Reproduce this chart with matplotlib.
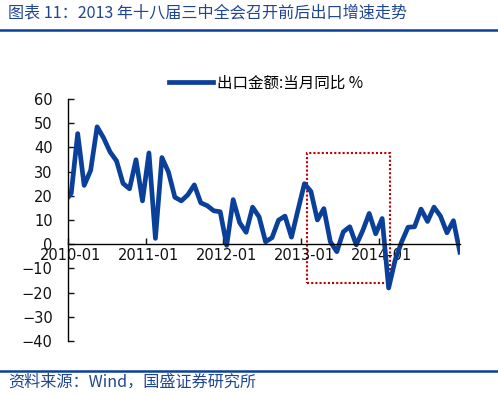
import matplotlib
matplotlib.use('Agg')
import matplotlib.pyplot as plt
from matplotlib.patches import Rectangle
from matplotlib.lines import Line2D
from matplotlib.transforms import ScaledTranslation
import numpy as np

plt.rcParams['font.family'] = ['DejaVu Sans', 'Noto Sans CJK SC']
cjk = ['Noto Sans CJK SC', 'DejaVu Sans']

# 出口金额:当月同比 %，2009-12 ~ 2015-01（逐月）
export_yoy = [17.7,
              21.0, 45.7, 24.3, 30.5, 48.5, 43.9, 38.1, 34.4, 25.1, 22.9, 34.9, 17.9,
              37.7, 2.4, 35.8, 29.9, 19.4, 17.9, 20.4, 24.5, 17.1, 15.9, 13.8, 13.4,
              -0.5, 18.4, 8.9, 4.9, 15.3, 11.3, 1.0, 2.7, 9.9, 11.6, 2.9, 14.1,
              25.0, 21.8, 10.0, 14.7, 1.0, -3.1, 5.1, 7.2, -0.3, 5.6, 12.7, 4.3,
              10.6, -18.1, -6.6, 0.9, 7.0, 7.2, 14.5, 9.4, 15.3, 11.6, 4.7, 9.7,
              -3.3]
xtick_labels = ['2010-01', '2011-01', '2012-01', '2013-01', '2014-01']
yticks = [-40, -30, -20, -10, 0, 10, 20, 30, 40, 50, 60]

blue = '#0A409A'
dark_blue = '#1F4691'

fig = plt.figure(figsize=(4.98, 3.96), dpi=100)
ax = fig.add_axes([0.1365, 0.139, 0.787, 0.611])

# 月份坐标：0 = 2010-01 起点，数据点落在月中
x = np.arange(len(export_yoy)) - 0.5
ax.plot(x, export_yoy, color=blue, lw=3.4, label='出口金额:当月同比 %',
        solid_joinstyle='round')

ax.set_xlim(0, x[-1])
ax.set_ylim(-40, 60)
ax.set_yticks(yticks)
ax.set_xticks([12 * i for i in range(len(xtick_labels))])
ax.set_xticklabels(xtick_labels)

ax.spines['top'].set_visible(False)
ax.spines['right'].set_visible(False)
ax.spines['bottom'].set_position(('data', 0))
for s in ('left', 'bottom'):
    ax.spines[s].set_linewidth(1.0)
ax.tick_params(axis='y', direction='in', length=4, width=1, pad=11,
               labelsize=10.5, colors='#111111')
ax.tick_params(axis='x', direction='in', length=4, width=1, pad=3,
               labelsize=10.5, colors='#111111')
offset = ScaledTranslation(3 / 100, 0, fig.dpi_scale_trans)
for lab in ax.get_xticklabels():
    lab.set_transform(lab.get_transform() + offset)

# 十八届三中全会前后区间
ax.add_patch(Rectangle((36.9, -16), 12.8, 53.7, fill=False, ec='#C00000',
                       lw=1.5, ls=(0, (1, 1)), clip_on=False))

fig.legend(loc='center', bbox_to_anchor=(0.535, 0.791), frameon=False,
           handlelength=2.8, handletextpad=0.3,
           prop={'family': cjk, 'size': 11.2})

# 标题与来源
fig.text(8 / 498, 1 - 13 / 396, '图表 11：2013 年十八届三中全会召开前后出口增速走势',
         family=cjk, fontsize=11.6, color=dark_blue, ha='left', va='center')
fig.add_artist(Line2D([0, 1], [1 - 30 / 396] * 2, transform=fig.transFigure,
                      color=blue, lw=1.8))
fig.add_artist(Line2D([0, 1], [1 - 371 / 396] * 2, transform=fig.transFigure,
                      color=blue, lw=1.8))
fig.text(8 / 498, 1 - 382 / 396, '资料来源：Wind，国盛证券研究所',
         family=cjk, fontsize=11.6, color=dark_blue, ha='left', va='center')

fig.savefig('out.png', dpi=100)
